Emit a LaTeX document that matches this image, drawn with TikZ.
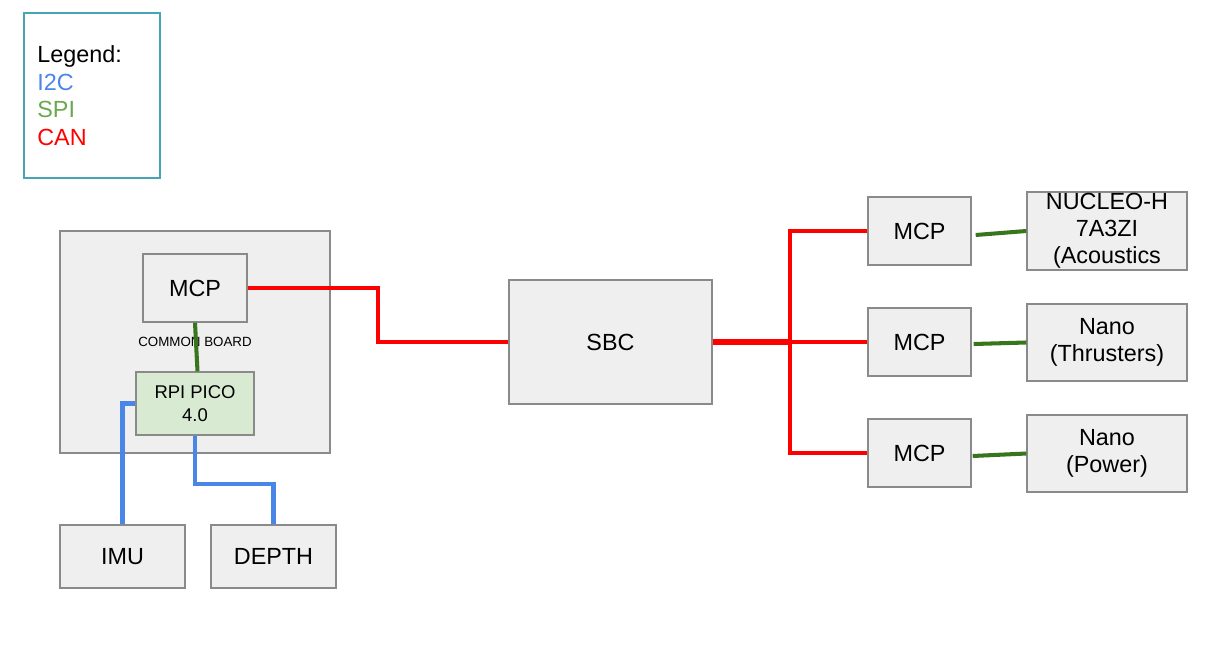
\documentclass[tikz,border=0pt]{standalone}
\usepackage{fontspec}
\setmainfont{Liberation Sans}
\usetikzlibrary{calc}

\definecolor{canRed}{HTML}{FF0000}
\definecolor{spiGreen}{HTML}{38761D}
\definecolor{spiText}{HTML}{6AA84F}
\definecolor{i2cBlue}{HTML}{4A86E8}
\definecolor{boxGray}{HTML}{EFEFEF}
\definecolor{boxEdge}{HTML}{8A8A8A}
\definecolor{picoGreen}{HTML}{D9EAD3}
\definecolor{legendEdge}{HTML}{45A5B5}

\tikzstyle{blockBox}=[shape=rectangle,draw=boxEdge,fill=boxGray,line width=0.8pt,inner sep=0pt,align=center,font=\fontsize{13.3}{15.3}\selectfont]
\tikzstyle{boardBox}=[blockBox,font=\fontsize{7.6}{9}\selectfont]
\tikzstyle{picoBox}=[blockBox,fill=picoGreen,font=\fontsize{10.5}{13}\selectfont]
\tikzstyle{legendBox}=[shape=rectangle,draw=legendEdge,line width=0.8pt,inner sep=0pt]
\tikzstyle{legendText}=[anchor=base west,inner sep=0pt,font=\fontsize{13.3}{15.3}\selectfont]
\tikzstyle{canLine}=[draw=canRed,line width=2.3pt]
\tikzstyle{spiLine}=[draw=spiGreen,line width=2.3pt]
\tikzstyle{i2cLine}=[draw=i2cBlue,line width=2.3pt]

\begin{document}
\begin{tikzpicture}[x=0.02cm,y=-0.02cm]
        \useasboundingbox (0,0) rectangle (1206,645);

        % legend
        \node[legendBox,minimum width=2.72cm,minimum height=3.3cm] (legend) at (92,95.5) {};
        \node[legendText] (lgdTitle) at (37,63)  {Legend:};
        \node[legendText,text=i2cBlue] (lgdI2C) at (37,91)  {I2C};
        \node[legendText,text=spiText] (lgdSPI) at (37,118) {SPI};
        \node[legendText,text=canRed]  (lgdCAN) at (37,146) {CAN};

        % common board
        \node[boardBox,minimum width=5.4cm,minimum height=4.44cm] (board) at (195,342) {COMMON BOARD};
        \node[blockBox,minimum width=2.08cm,minimum height=1.36cm] (mcpBoard) at (195,288) {MCP};
        \node[picoBox,minimum width=2.36cm,minimum height=1.26cm] (pico) at (195,403.5) {RPI PICO\\4.0};

        \node[blockBox,minimum width=2.5cm,minimum height=1.26cm] (imu)   at (122.5,556.5) {IMU};
        \node[blockBox,minimum width=2.5cm,minimum height=1.26cm] (depth) at (273.5,556.5) {DEPTH};

        % main computer
        \node[blockBox,minimum width=4.06cm,minimum height=2.48cm] (sbc) at (610.5,342) {SBC};

        % can nodes
        \node[blockBox,minimum width=2.06cm,minimum height=1.36cm] (mcpA) at (919.5,231) {MCP};
        \node[blockBox,minimum width=2.06cm,minimum height=1.36cm] (mcpB) at (919.5,342) {MCP};
        \node[blockBox,minimum width=2.06cm,minimum height=1.36cm] (mcpC) at (919.5,453) {MCP};

        \node[blockBox,minimum width=3.2cm,minimum height=1.56cm] (nucleo)    at (1107,231)   {NUCLEO-H\\7A3ZI\\(Acoustics};
        \node[blockBox,minimum width=3.2cm,minimum height=1.54cm] (thrusters) at (1107,342.5) {Nano\\(Thrusters)};
        \node[blockBox,minimum width=3.2cm,minimum height=1.54cm] (power)     at (1107,453.5) {Nano\\(Power)};

        \coordinate (canHub) at (790,342);

        % CAN
        \draw [canLine] (mcpBoard.east) -- ++(130,0) |- (sbc.west);
        \draw [canLine,line width=3.4pt] (sbc.east) -- (canHub);
        \draw [canLine] (canHub) |- (mcpA.west);
        \draw [canLine] (canHub) -- (mcpB.west);
        \draw [canLine] (canHub) |- (mcpC.west);

        % SPI
        \draw [spiLine] (mcpBoard.south) -- ([xshift=0.05cm]pico.north);
        \draw [spiLine] ([xshift=0.08cm,yshift=-0.08cm]mcpA.east) -- (nucleo.west);
        \draw [spiLine] ([xshift=0.04cm,yshift=-0.04cm]mcpB.east) -- (thrusters.west);
        \draw [spiLine] ([xshift=0.02cm,yshift=-0.06cm]mcpC.east) -- (power.west);

        % I2C
        \draw [i2cLine] (pico.west) -| (imu.north);
        \draw [i2cLine] (pico.south) -- ++(0,48) -| (depth.north);
    \end{tikzpicture}
\end{document}
